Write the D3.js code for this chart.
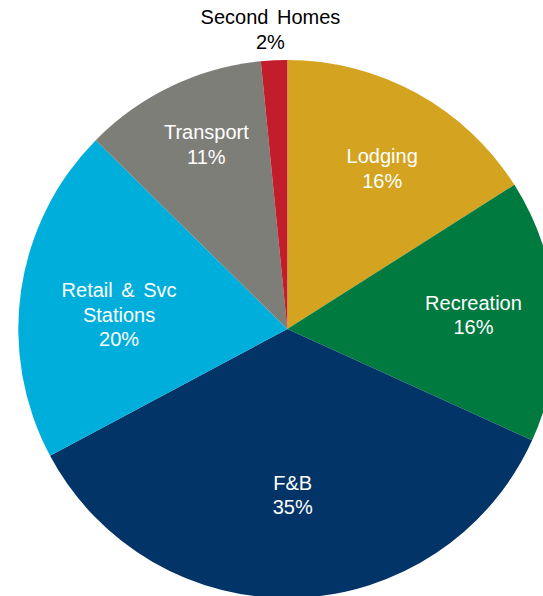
<!DOCTYPE html>
<html>
<head>
<meta charset="utf-8">
<script src="https://cdn.jsdelivr.net/npm/d3@7"></script>
<style>
    html, body { margin: 0; padding: 0; background: #fff; overflow: hidden; }
    #chart { width: 543px; height: 596px; }
</style>
</head>
<body>
<div id="chart"></div>
<script>
const categories = ['Lodging', 'Recreation', 'F&B', 'Retail & Svc Stations', 'Transport', 'Second Homes'];
const shares = [16.0, 15.8, 35.4, 20.2, 11.05, 1.57];
const shareLabels = ['16%', '16%', '35%', '20%', '11%', '2%'];
const labelLines = [['Lodging'], ['Recreation'], ['F&B'], ['Retail & Svc', 'Stations'], ['Transport'], ['Second Homes']];

const width = 543;
const height = 596;
const cx = 287.3;
const cy = 329;
const radius = 269;

const colors = ['#D4A421', '#007A3F', '#033468', '#00AEDC', '#7E7E79', '#C11D2B'];
// label distance from the centre (share of radius) and a small pixel nudge, like Excel's best fit
const labelRadius = [0.69, 0.69, 0.63, 0.63, 0.75, 1.12];
const labelNudge = [[5.5, 2], [1, -1], [0, -3.5], [-0.5, 10], [6, -2.5], [-2, 1.5]];
const lineHeight = 24.5;

const svg = d3.select('#chart')
    .append('svg')
    .attr('width', width)
    .attr('height', height);

const g = svg.append('g')
    .attr('transform', `translate(${cx}, ${cy})`);

const pie = d3.pie()
    .sort(null)
    .value(d => d);

const arcs = pie(shares);

const arc = d3.arc()
    .innerRadius(0)
    .outerRadius(radius);

g.selectAll('.slice')
    .data(arcs)
    .enter()
    .append('path')
    .attr('class', 'slice')
    .attr('d', arc)
    .style('fill', (d, i) => colors[i]);

const labels = g.selectAll('.label')
    .data(arcs)
    .enter()
    .append('text')
    .attr('class', 'label')
    .attr('transform', (d, i) => {
        const la = d3.arc().innerRadius(radius * labelRadius[i]).outerRadius(radius * labelRadius[i]);
        const [x, y] = la.centroid(d);
        return `translate(${x + labelNudge[i][0]}, ${y + labelNudge[i][1]})`;
    })
    .attr('text-anchor', 'middle')
    .style('font-family', '"Liberation Sans", Arial, sans-serif')
    .style('font-size', '20px')
    .style('word-spacing', '3px')
    .style('fill', (d, i) => i === 5 ? '#000' : '#fff');

labels.each(function(d, i) {
    const lines = labelLines[i].concat([shareLabels[i]]);
    const text = d3.select(this);
    const first = -(lines.length - 1) * lineHeight / 2 + 7;
    lines.forEach((line, k) => {
        text.append('tspan')
            .attr('x', 0)
            .attr('y', first + k * lineHeight)
            .text(line);
    });
});
</script>
</body>
</html>
